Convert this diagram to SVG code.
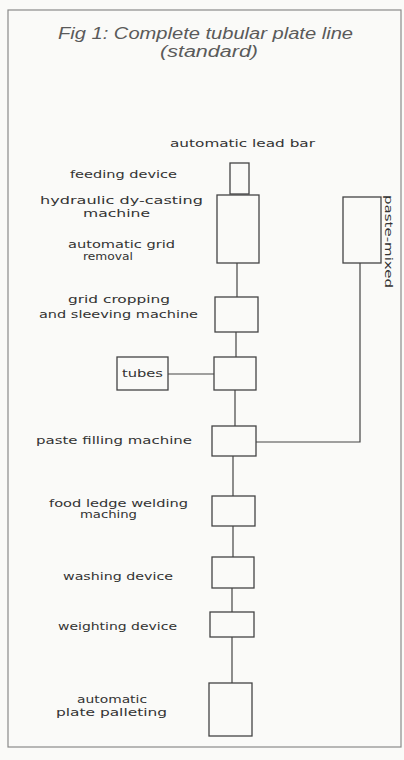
<svg xmlns="http://www.w3.org/2000/svg" width="404" height="760" viewBox="0 0 404 760">
<style>
.bg{fill:#fafaf8}
.frame{fill:none;stroke:#8a8a8a;stroke-width:1.2}
.title{font-family:"Liberation Sans",Arial,sans-serif;font-style:italic;font-size:16px;fill:#5a5a5a}
.box{fill:none;stroke:#444;stroke-width:1.3}
.lbl{font-family:"DejaVu Sans",sans-serif;font-size:10px;fill:#333}
.conn line,.conn polyline{fill:none;stroke:#444;stroke-width:1.2}
</style>
<rect class="bg" x="0" y="0" width="404" height="760"/>
<rect class="frame" x="8" y="10" width="393" height="737"/>
<g id="title">
<text class="title" x="58" y="39" textLength="295" lengthAdjust="spacingAndGlyphs">Fig 1: Complete tubular plate line</text>
<text class="title" x="160" y="57" textLength="98" lengthAdjust="spacingAndGlyphs">(standard)</text>
</g>
<g class="conn" id="connectors">
<line x1="237" y1="263" x2="237" y2="297"/>
<line x1="236" y1="332" x2="236" y2="357"/>
<line x1="168" y1="374" x2="214" y2="374"/>
<line x1="235" y1="390" x2="235" y2="426"/>
<polyline points="256,442 360,442 360,263"/>
<line x1="233" y1="456" x2="233" y2="496"/>
<line x1="233" y1="526" x2="233" y2="557"/>
<line x1="232" y1="588" x2="232" y2="612"/>
<line x1="232" y1="637" x2="232" y2="683"/>
</g>
<g id="feeding">
<rect class="box" x="230" y="163" width="19" height="31"/>
<text class="lbl" x="170" y="147" textLength="145" lengthAdjust="spacingAndGlyphs">automatic lead bar</text>
<text class="lbl" x="70" y="178" textLength="107" lengthAdjust="spacingAndGlyphs">feeding device</text>
</g>
<g id="diecasting">
<rect class="box" x="217" y="195" width="42" height="68"/>
<text class="lbl" x="40" y="204" textLength="163" lengthAdjust="spacingAndGlyphs">hydraulic dy-casting</text>
<text class="lbl" x="83" y="217" textLength="67" lengthAdjust="spacingAndGlyphs">machine</text>
<text class="lbl" x="68" y="248" textLength="107" lengthAdjust="spacingAndGlyphs">automatic grid</text>
<text class="lbl" x="83" y="260" textLength="50" lengthAdjust="spacingAndGlyphs">removal</text>
</g>
<g id="cropping">
<rect class="box" x="215" y="297" width="43" height="35"/>
<text class="lbl" x="68" y="303" textLength="102" lengthAdjust="spacingAndGlyphs">grid cropping</text>
<text class="lbl" x="39" y="318" textLength="159" lengthAdjust="spacingAndGlyphs">and sleeving machine</text>
</g>
<g id="tubejoin">
<rect class="box" x="214" y="357" width="42" height="33"/>
</g>
<g id="tubes">
<rect class="box" x="117" y="357" width="51" height="33"/>
<text class="lbl" x="122" y="377" textLength="41" lengthAdjust="spacingAndGlyphs">tubes</text>
</g>
<g id="pastefilling">
<rect class="box" x="212" y="426" width="44" height="30"/>
<text class="lbl" x="36" y="444" textLength="156" lengthAdjust="spacingAndGlyphs">paste filling machine</text>
</g>
<g id="pastemixed">
<rect class="box" x="343" y="197" width="38" height="66"/>
<text class="lbl" transform="translate(385,195) rotate(90)" x="0" y="0" textLength="93" lengthAdjust="spacingAndGlyphs">paste-mixed</text>
</g>
<g id="ledge">
<rect class="box" x="212" y="496" width="43" height="30"/>
<text class="lbl" x="49" y="507" textLength="139" lengthAdjust="spacingAndGlyphs">food ledge welding</text>
<text class="lbl" x="80" y="518" textLength="57" lengthAdjust="spacingAndGlyphs">maching</text>
</g>
<g id="washing">
<rect class="box" x="212" y="557" width="42" height="31"/>
<text class="lbl" x="63" y="580" textLength="110" lengthAdjust="spacingAndGlyphs">washing device</text>
</g>
<g id="weighting">
<rect class="box" x="210" y="612" width="44" height="25"/>
<text class="lbl" x="58" y="630" textLength="119" lengthAdjust="spacingAndGlyphs">weighting device</text>
</g>
<g id="palleting">
<rect class="box" x="209" y="683" width="43" height="53"/>
<text class="lbl" x="77" y="703" textLength="70" lengthAdjust="spacingAndGlyphs">automatic</text>
<text class="lbl" x="56" y="716" textLength="111" lengthAdjust="spacingAndGlyphs">plate palleting</text>
</g>
</svg>
